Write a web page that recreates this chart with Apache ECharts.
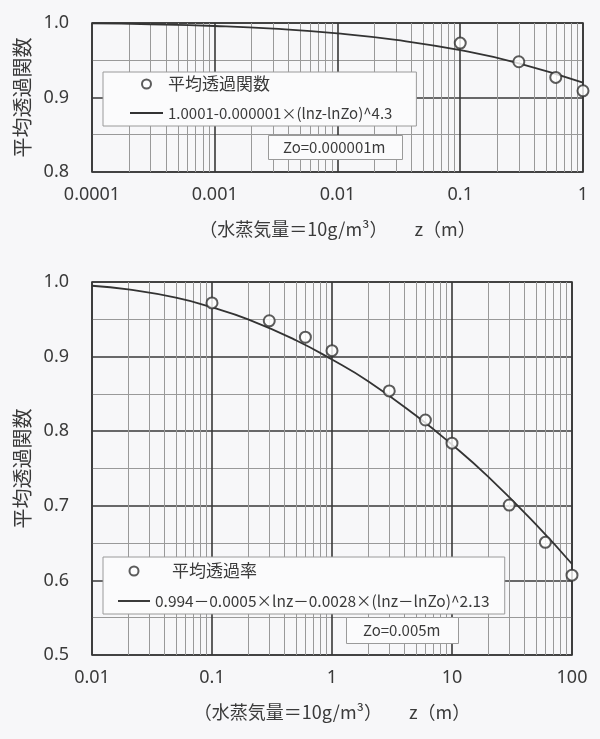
<!DOCTYPE html>
<html><head><meta charset="utf-8">
<script src="https://cdn.jsdelivr.net/npm/echarts@6/dist/echarts.min.js"></script>
<style>html,body{margin:0;padding:0;background:#f7f7f9;}#c{width:600px;height:739px;}</style>
</head><body><div id="c"></div>
<script>
// ---- Top chart data (Zo = 0.000001 m) ----
const topPointsZ = [0.1, 0.3, 0.6, 1];
const topPointsV = [0.973, 0.948, 0.927, 0.909];
const topCurveZ = [0.0001, 0.0003, 0.001, 0.003, 0.01, 0.03, 0.1, 0.3, 1];
const topCurveV = [0.9994, 0.9983, 0.9960, 0.9924, 0.9861, 0.9773, 0.9635, 0.9459, 0.9199];
const topXLabels = ['0.0001', '0.001', '0.01', '0.1', '1'];
const topYLabels = ['0.8', '0.9', '1.0'];
// ---- Bottom chart data (Zo = 0.005 m) ----
const botPointsZ = [0.1, 0.3, 0.6, 1, 3, 6, 10, 30, 60, 100];
const botPointsV = [0.972, 0.948, 0.926, 0.908, 0.854, 0.815, 0.784, 0.701, 0.651, 0.607];
const botCurveZ = [0.01, 0.02, 0.05, 0.1, 0.2, 0.5, 1, 2, 5, 10, 20, 50, 100];
const botCurveV = [0.995, 0.990, 0.979, 0.966, 0.950, 0.922, 0.896, 0.867, 0.821, 0.782, 0.739, 0.675, 0.622];
const botXLabels = ['0.01', '0.1', '1', '10', '100'];
const botYLabels = ['0.5', '0.6', '0.7', '0.8', '0.9', '1.0'];

const topPointName = '平均透過関数';
const topCurveName = '1.0001-0.000001×(lnz-lnZo)^4.3';
const botPointName = '平均透過率';
const botCurveName = '0.994－0.0005×lnz－0.0028×(lnz－lnZo)^2.13';

const FONT = '"Noto Sans CJK JP", "Noto Sans", sans-serif';
const NUMFONT = '"Noto Sans", "Noto Sans CJK JP", sans-serif';
const TXT = '#3a3a3a';
const LINE_ICON = 'path://M0,0H40V2.4H0Z';
const pairs = (xs, ys) => xs.map((x, i) => [x, ys[i]]);
const labelFrom = (labels, min) => (v) => {
  const idx = Math.round(Math.log10(v) - Math.log10(min));
  return labels[idx] !== undefined ? labels[idx] : '';
};
const yLabelFrom = (labels, min) => (v) => {
  const idx = Math.round((v - min) / 0.1);
  return labels[idx] !== undefined ? labels[idx] : '';
};

function xAxisCfg(gridIndex, min, max, labels) {
  return {
    type: 'log', logBase: 10, gridIndex, min, max,
    axisLine: {show: false}, axisTick: {show: false},
    axisLabel: {color: TXT, fontSize: 18, fontFamily: NUMFONT, margin: 14, formatter: labelFrom(labels, min)},
    splitLine: {show: true, lineStyle: {color: '#383838', width: 1.6}},
    minorTick: {show: false, splitNumber: 9},
    minorSplitLine: {show: true, lineStyle: {color: '#999', width: 1}},
    name: '（水蒸気量＝10g/m³）　　z（m）', nameLocation: 'middle', nameGap: 48,
    nameTextStyle: {color: TXT, fontSize: 18, fontFamily: FONT}
  };
}
function yAxisCfg(gridIndex, min, max, labels) {
  return {
    type: 'value', gridIndex, min, max, interval: 0.1,
    axisLine: {show: false}, axisTick: {show: false},
    axisLabel: {color: TXT, fontSize: 18, fontFamily: NUMFONT, margin: 23, formatter: yLabelFrom(labels, min)},
    splitLine: {show: true, lineStyle: {color: '#383838', width: 1.6}},
    minorTick: {show: false, splitNumber: 2},
    minorSplitLine: {show: true, lineStyle: {color: '#999', width: 1}},
    name: '平均透過関数', nameLocation: 'middle', nameGap: 54,
    nameTextStyle: {color: TXT, fontSize: 20, fontFamily: FONT}
  };
}

const chart = echarts.init(document.getElementById('c'), null, {renderer: 'canvas'});
chart.setOption({
  backgroundColor: '#f7f7f9',
  animation: false,
  textStyle: {fontFamily: FONT},
  grid: [
    {left: 92, top: 23, width: 491, height: 149, show: true, borderColor: '#333', borderWidth: 1.6, backgroundColor: 'transparent'},
    {left: 92, top: 282, width: 480, height: 373, show: true, borderColor: '#333', borderWidth: 1.6, backgroundColor: 'transparent'}
  ],
  xAxis: [xAxisCfg(0, 0.0001, 1, topXLabels), xAxisCfg(1, 0.01, 100, botXLabels)],
  yAxis: [yAxisCfg(0, 0.8, 1.0, topYLabels), yAxisCfg(1, 0.5, 1.0, botYLabels)],
  legend: [
    {
      data: [
        {name: topPointName, icon: 'emptyCircle', textStyle: {fontSize: 17}},
        {name: topCurveName, icon: LINE_ICON, textStyle: {fontSize: 15}}
      ],
      orient: 'vertical', left: 103, top: 72, itemWidth: 33, itemHeight: 9, itemGap: 11,
      padding: [3, 24, 4, 27], backgroundColor: '#fbfbfc', borderColor: '#9a9a9a', borderWidth: 1, borderRadius: 0,
      textStyle: {color: TXT, fontSize: 16, lineHeight: 18, fontFamily: FONT}
    },
    {
      data: [
        {name: botPointName, icon: 'emptyCircle', textStyle: {fontSize: 17}},
        {name: botCurveName, icon: LINE_ICON, textStyle: {fontSize: 15.5}}
      ],
      formatter: (n) => n === botPointName ? '\u3000' + n : n,
      orient: 'vertical', left: 103, top: 557, itemWidth: 32, itemHeight: 9, itemGap: 12,
      padding: [5, 15, 4, 15], backgroundColor: '#fbfbfc', borderColor: '#9a9a9a', borderWidth: 1, borderRadius: 0,
      textStyle: {color: TXT, fontSize: 16, lineHeight: 18, fontFamily: FONT}
    }
  ],
  title: [
    {text: 'Zo=0.000001m', left: 268, top: 135, padding: [5, 17, 5, 15], backgroundColor: '#fbfbfc', borderColor: '#9a9a9a', borderWidth: 1,
     textStyle: {color: TXT, fontSize: 15, fontWeight: 'normal', fontFamily: FONT}},
    {text: 'Zo=0.005m', left: 346, top: 617, padding: [6, 18, 6, 17], backgroundColor: '#fbfbfc', borderColor: '#9a9a9a', borderWidth: 1,
     textStyle: {color: TXT, fontSize: 15, fontWeight: 'normal', fontFamily: FONT}}
  ],
  series: [
    {name: topCurveName, type: 'line', xAxisIndex: 0, yAxisIndex: 0, data: pairs(topCurveZ, topCurveV),
     smooth: true, symbol: 'none', lineStyle: {color: '#333', width: 1.8}, itemStyle: {color: '#333'}, z: 3},
    {name: topPointName, type: 'scatter', xAxisIndex: 0, yAxisIndex: 0, data: pairs(topPointsZ, topPointsV),
     symbol: 'emptyCircle', symbolSize: 11, itemStyle: {color: '#333', borderColor: '#333', borderWidth: 1.6}, z: 4},
    {name: botCurveName, type: 'line', xAxisIndex: 1, yAxisIndex: 1, data: pairs(botCurveZ, botCurveV),
     smooth: true, symbol: 'none', lineStyle: {color: '#333', width: 1.8}, itemStyle: {color: '#333'}, z: 3},
    {name: botPointName, type: 'scatter', xAxisIndex: 1, yAxisIndex: 1, data: pairs(botPointsZ, botPointsV),
     symbol: 'emptyCircle', symbolSize: 11, itemStyle: {color: '#333', borderColor: '#333', borderWidth: 1.6}, z: 4}
  ]
});
</script></body></html>
